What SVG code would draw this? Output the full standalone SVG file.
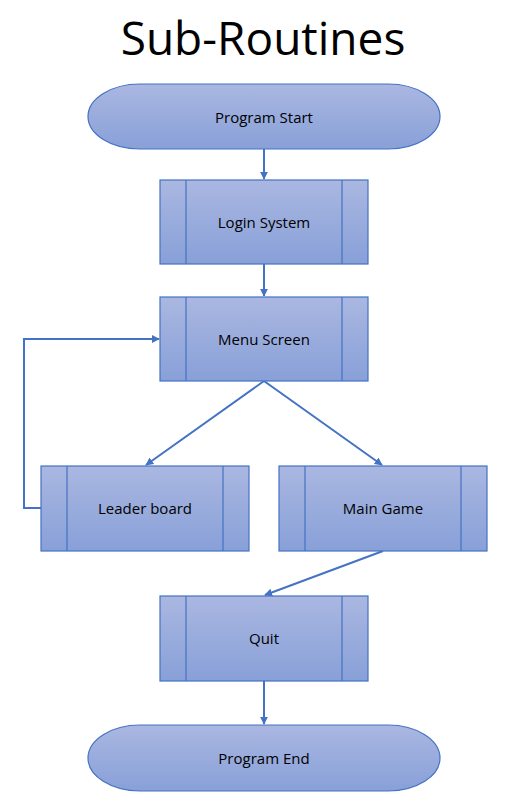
<svg xmlns="http://www.w3.org/2000/svg" width="514" height="808" viewBox="0 0 514 808">
<style>
.node{fill:url(#g);stroke:#4472c4;stroke-width:1.2}
.div{stroke:#4472c4;stroke-width:1.2;fill:none}
.lbl{font-family:"Open Sans","Noto Sans","Liberation Sans",sans-serif;font-size:15px;fill:#000;text-anchor:middle}
.conn{stroke:#4472c4;stroke-width:2;fill:none;marker-end:url(#ah)}
</style>
<defs>
<linearGradient id="g" x1="0" y1="0" x2="0" y2="1">
<stop offset="0" stop-color="#aab7e1"/>
<stop offset="1" stop-color="#88a0d8"/>
</linearGradient>
<marker id="ah" viewBox="0 0 10 10" refX="9" refY="5" markerWidth="4" markerHeight="4" orient="auto" markerUnits="strokeWidth">
<path d="M0,0 L10,5 L0,10 z" fill="#4472c4"/>
</marker>
</defs>
<rect width="514" height="808" fill="#fff"/>
<text x="263" y="55" font-family="'Open Sans','Noto Sans',sans-serif" font-size="46" text-anchor="middle" fill="#000">Sub-Routines</text>
<g id="connectors">
<line class="conn" x1="264" y1="149" x2="264" y2="179"/>
<line class="conn" x1="264" y1="264" x2="264" y2="296"/>
<line class="conn" x1="264" y1="381" x2="146" y2="465"/>
<line class="conn" x1="264" y1="381" x2="382" y2="465"/>
<line class="conn" x1="383" y1="551" x2="265" y2="595"/>
<line class="conn" x1="264" y1="681" x2="264" y2="724"/>
<polyline class="conn" points="41,508 24,508 24,339 159,339"/>
</g>
<g id="start">
<rect class="node" x="88" y="84" width="352" height="65" rx="52" ry="32.5"/>
<text class="lbl" x="264" y="123">Program Start</text>
</g>
<g id="login">
<rect class="node" x="160" y="180" width="208" height="84"/>
<path class="div" d="M186,180V264M342,180V264"/>
<text class="lbl" x="264" y="228">Login System</text>
</g>
<g id="menu">
<rect class="node" x="160" y="297" width="208" height="84"/>
<path class="div" d="M186,297V381M342,297V381"/>
<text class="lbl" x="264" y="345">Menu Screen</text>
</g>
<g id="leader">
<rect class="node" x="41" y="466" width="208" height="85"/>
<path class="div" d="M67,466V551M223,466V551"/>
<text class="lbl" x="145" y="514">Leader board</text>
</g>
<g id="game">
<rect class="node" x="279" y="466" width="208" height="85"/>
<path class="div" d="M305,466V551M461,466V551"/>
<text class="lbl" x="383" y="514">Main Game</text>
</g>
<g id="quit">
<rect class="node" x="160" y="596" width="208" height="85"/>
<path class="div" d="M186,596V681M342,596V681"/>
<text class="lbl" x="264" y="644">Quit</text>
</g>
<g id="end">
<rect class="node" x="88" y="725" width="352" height="66" rx="52" ry="33"/>
<text class="lbl" x="264" y="764">Program End</text>
</g>
</svg>
